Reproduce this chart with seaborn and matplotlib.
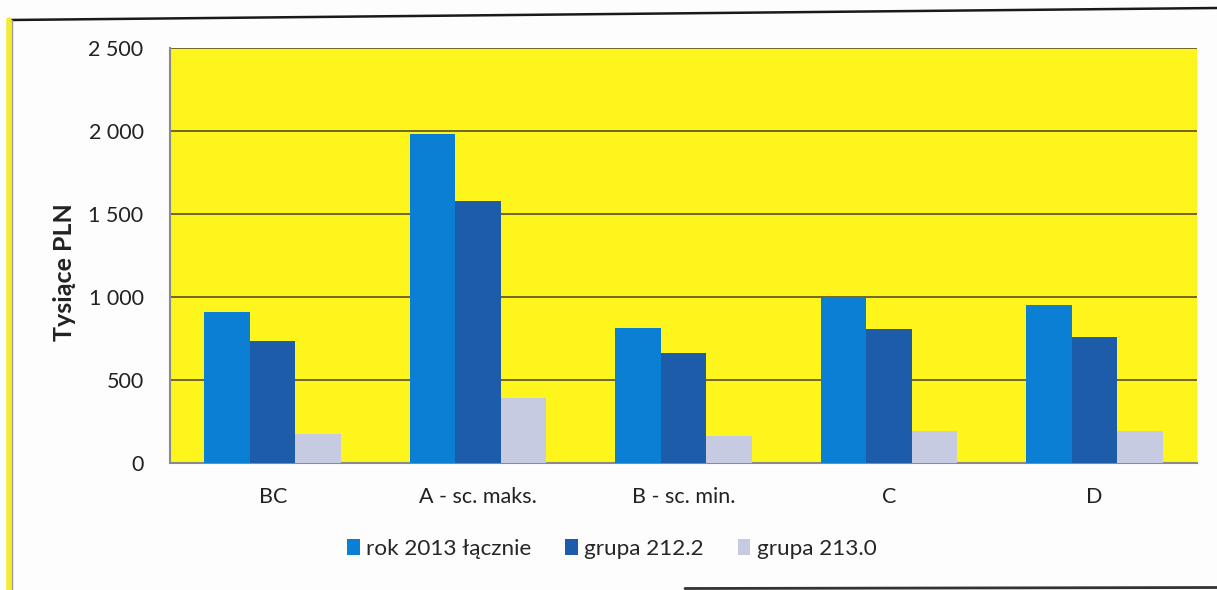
import matplotlib
matplotlib.use("Agg")
import matplotlib.pyplot as plt
from matplotlib.patches import Patch
from matplotlib.lines import Line2D
from matplotlib.ticker import FuncFormatter, FixedLocator
import seaborn as sns
import pandas as pd

# Scenario categories and the three cost series (thousand PLN)
categories = ["BC", "A - sc. maks.", "B - sc. min.", "C", "D"]
series_names = ["rok 2013 łącznie", "grupa 212.2", "grupa 213.0"]
total_2013 = [910, 1980, 815, 995, 950]
group_212_2 = [735, 1580, 665, 805, 760]
group_213_0 = [175, 390, 165, 195, 195]
y_ticks = [0, 500, 1000, 1500, 2000, 2500]
y_label = "Tysiące PLN"

colors = ["#0b7fd3", "#1d5ca9", "#c6cbe2"]

df = pd.DataFrame({
    "kategoria": categories * 3,
    "seria": [series_names[0]] * 5 + [series_names[1]] * 5 + [series_names[2]] * 5,
    "wartosc": total_2013 + group_212_2 + group_213_0,
})

sns.set_theme(style="white")
plt.rcParams["font.family"] = ["Lato", "DejaVu Sans"]

fig = plt.figure(figsize=(12.17, 5.90), dpi=100)
fig.patch.set_facecolor("#fdfdfd")
ax = fig.add_axes([170 / 1217, 1 - 463 / 590, (1197 - 170) / 1217, (463 - 48) / 590])
ax.set_facecolor("#fdf51c")

sns.barplot(data=df, x="kategoria", y="wartosc", hue="seria",
            order=categories, hue_order=series_names, palette=colors,
            width=0.665, gap=0, saturation=1, edgecolor="none",
            legend=False, ax=ax, zorder=3)

ax.set_xlim(-0.5, len(categories) - 0.5)
ax.set_ylim(0, 2500)
ax.yaxis.set_major_locator(FixedLocator(y_ticks))
ax.yaxis.set_major_formatter(FuncFormatter(lambda v, p: f"{int(v):,}".replace(",", " ")))
ax.grid(axis="y", color="#6e6828", linewidth=1.4, zorder=1)
ax.set_axisbelow(True)

for side in ["top", "right"]:
    ax.spines[side].set_visible(False)
for side in ["left", "bottom"]:
    ax.spines[side].set_color("#8a8a8a")
    ax.spines[side].set_linewidth(1.5)

ax.tick_params(axis="x", which="major", length=0, pad=17, labelsize=15.5, labelcolor="#222222")
ax.set_xticks([i - 0.5 for i in range(len(categories) + 1)], minor=True)
ax.tick_params(axis="x", which="minor", length=7, width=1.5, color="#8a8a8a", direction="out")
ax.tick_params(axis="y", length=8, width=1.5, color="#555555", direction="out",
               labelsize=15.5, labelcolor="#222222", pad=11)
ax.set_xlabel("")
ax.set_ylabel(y_label, fontsize=18, fontweight="bold", color="#222222")
ax.yaxis.set_label_coords(-0.092, 0.46)

handles = [Patch(facecolor=c, edgecolor="none") for c in colors]
fig.legend(handles, series_names, loc="center", bbox_to_anchor=(612 / 1217, 1 - 549 / 590),
           ncol=3, frameon=False, fontsize=16.2, handlelength=0.55, handleheight=0.75,
           handletextpad=0.3, columnspacing=1.5)

# Scanned chart frame: top rule, left yellow edge, bottom rule
fig.add_artist(Line2D([10 / 1217, 1.0], [1 - 20 / 590, 1 - 8 / 590],
                      transform=fig.transFigure, color="#1a1a1a", linewidth=1.8))
fig.add_artist(Line2D([8.5 / 1217, 8.5 / 1217], [0, 1 - 20 / 590],
                      transform=fig.transFigure, color="#f3ec30", linewidth=4))
fig.add_artist(Line2D([12 / 1217, 12 / 1217], [0, 1 - 20 / 590],
                      transform=fig.transFigure, color="#9a9a9a", linewidth=1))
fig.add_artist(Line2D([685 / 1217, 1.0], [1.5 / 590, 2.5 / 590],
                      transform=fig.transFigure, color="#333333", linewidth=2))

fig.savefig("out.png", dpi=100, facecolor=fig.get_facecolor())
